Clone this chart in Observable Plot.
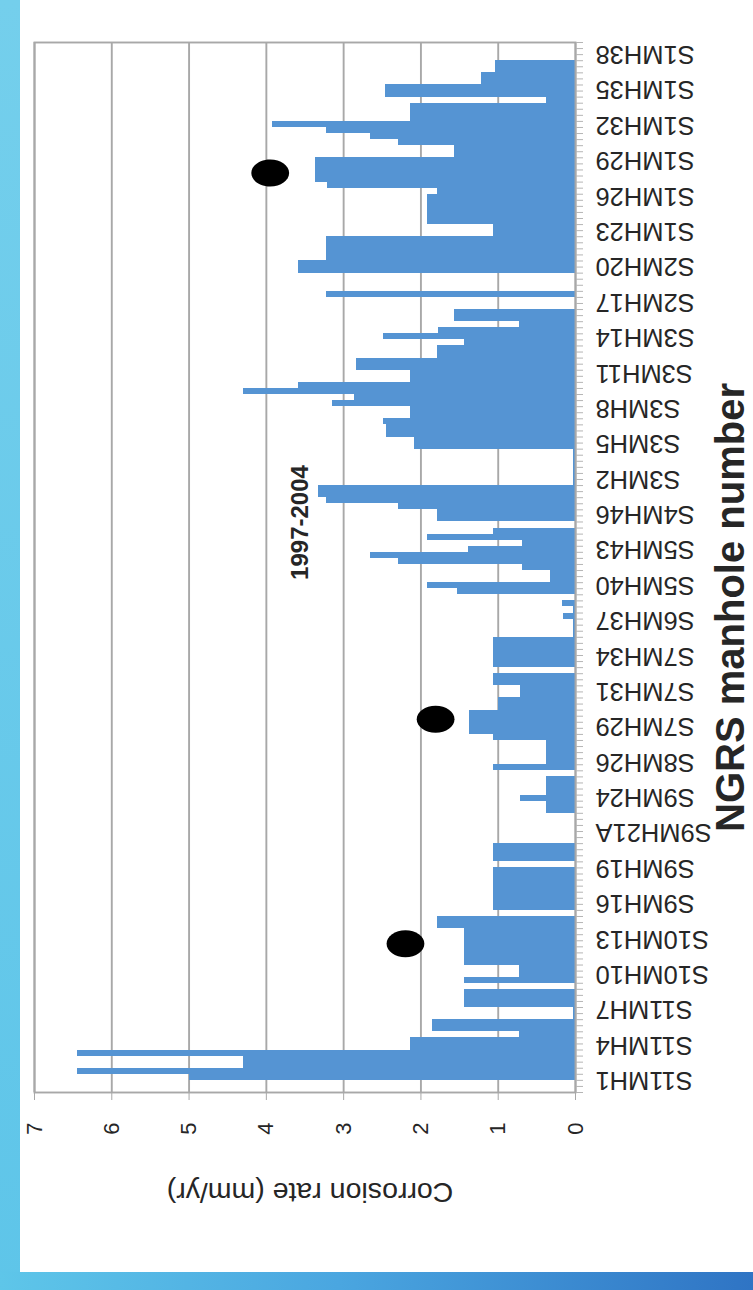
<!DOCTYPE html>
<html>
<head>
<meta charset="utf-8">
<script src="https://cdn.jsdelivr.net/npm/d3@7"></script>
<script src="https://cdn.jsdelivr.net/npm/@observablehq/plot@0.6"></script>
<style>
html, body { margin: 0; padding: 0; background: #ffffff; }
#page { position: relative; width: 753px; height: 1290px; overflow: hidden; background: #ffffff; }
#chart { position: absolute; left: 0; top: 0; }
#leftband { position: absolute; left: 0; top: 0; width: 20px; height: 1290px;
  background: linear-gradient(to bottom, #74cfec, #5ec5e9); }
#bottomband { position: absolute; left: 0; bottom: 0; width: 753px; height: 18px;
  background: linear-gradient(to right, #5ec6e9 0%, #4aa6e0 45%, #2f74c4 100%); }
</style>
</head>
<body>
<div id="page">
  <div id="chart"></div>
  <div id="leftband"></div>
  <div id="bottomband"></div>
</div>
<script>
// Tick labels shown on the category axis, in chart order
const manholes = [
  "S11MH1", "S11MH4", "S11MH7", "S10MH10", "S10MH13", "S9MH16", "S9MH19",
  "S9MH21A", "S9MH24", "S8MH26", "S7MH29", "S7MH31", "S7MH34", "S6MH37",
  "S5MH40", "S5MH43", "S4MH46", "S3MH2", "S3MH5", "S3MH8", "S3MH11",
  "S3MH14", "S2MH17", "S2MH20", "S1MH23", "S1MH26", "S1MH29", "S1MH32",
  "S1MH35", "S1MH38"
];
const labelBase = 2.0;   // category position of the first label
const labelStep = 5.83;  // categories between two labels

// Corrosion rate (mm/yr) for each category, from the S11MH1 end to the S1MH38 end
const rates = [
  0, 0, 5.0, 6.44, 4.3, 4.3, 6.44, 2.14, 2.14, 0.72, 1.85, 1.85,
  0.03, 0.03, 1.44, 1.44, 1.44, 0, 1.44, 0.72, 0.72,
  1.44, 1.44, 1.44, 1.44, 1.44, 1.44, 1.79, 1.79, 0,
  1.06, 1.06, 1.06, 1.06, 1.06, 1.06, 1.06, 0, 1.06, 1.06, 1.06,
  0, 0, 0, 0, 0,
  0.37, 0.37, 0.71, 0.37, 0.37, 0.37, 0, 1.06, 0.37, 0.37, 0.37, 0.37, 1.06,
  1.37, 1.37, 1.37, 1.37, 0.99, 0.99, 0.71, 0.71, 1.06, 1.06, 0,
  1.06, 1.06, 1.06, 1.06, 1.06,
  0.03, 0.03, 0.03, 0.15, 0.03, 0.17, 0, 1.53, 1.92, 0.32, 0.32,
  0.69, 2.29, 2.65, 1.39, 0.69, 1.92, 1.06, 0, 1.79, 1.79, 2.29, 3.22,
  3.32, 3.32,
  0.02, 0.02, 0.02, 0.02, 0.02, 0.02,
  2.08, 2.08, 2.44, 2.44, 2.49, 2.13, 2.13, 3.15, 2.86, 4.29, 3.58,
  2.13, 2.13, 2.84, 2.84, 1.78, 1.78, 1.44, 2.49, 1.77, 0.72, 1.56, 1.56,
  0, 0, 3.22, 0, 0, 0, 3.58, 3.58, 3.22, 3.22, 3.22, 3.22, 1.06, 1.06,
  1.92, 1.92, 1.92, 1.92, 1.92, 1.79, 3.21, 3.36, 3.36, 3.36, 3.36,
  1.57, 1.57, 2.29, 2.65, 3.22, 3.92, 2.13, 2.13, 2.13, 0.37, 2.46, 2.46,
  1.21, 1.21, 1.03, 1.03, 0, 0, 0
];

// Value axis ticks
const valueTicks = [0, 1, 2, 3, 4, 5, 6, 7];

// Black markers drawn on the chart (category index, rate)
const markerCategory = [151, 61, 24];
const markerRate = [3.95, 1.81, 2.2];

const titleText = "1997-2004";
const valueTitle = "Corrosion rate (mm/yr)";
const categoryTitle = "NGRS manhole number";

// ----- tables built from the arrays -----
const N = rates.length;
const rows = rates.map((rate, i) => ({i, next: i + 1, rate}));
const labelPos = manholes.map((m, j) => labelBase + labelStep * j);
const labelOf = new Map(labelPos.map((p, j) => [p, manholes[j]]));
const markers = markerCategory.map((i, k) => ({pos: i + 0.5, rate: markerRate[k]}));

// elliptical marker symbol
const ellipse = {
  draw(ctx, size) {
    const r = Math.sqrt(size / Math.PI);
    const rx = r * 1.4, ry = r, k = 0.5523;
    ctx.moveTo(rx, 0);
    ctx.bezierCurveTo(rx, k * ry, k * rx, ry, 0, ry);
    ctx.bezierCurveTo(-k * rx, ry, -rx, k * ry, -rx, 0);
    ctx.bezierCurveTo(-rx, -k * ry, -k * rx, -ry, 0, -ry);
    ctx.bezierCurveTo(k * rx, -ry, rx, -k * ry, rx, 0);
    ctx.closePath();
  }
};

const gray = "#a8a8a8";
const chart = Plot.plot({
  width: 753,
  height: 1290,
  marginTop: 42,
  marginLeft: 34,
  marginRight: 178,
  marginBottom: 198,
  style: {background: "transparent", fontFamily: "'Liberation Sans', Arial, sans-serif", overflow: "visible"},
  x: {domain: [0, 7], reverse: true, axis: null},
  y: {domain: [0, N], axis: null},
  marks: [
    Plot.gridX(valueTicks, {stroke: gray, strokeOpacity: 1, strokeWidth: 1.9}),
    Plot.rect(rows, {x1: 0, x2: "rate", y1: "i", y2: "next", fill: "#5594d3", shapeRendering: "crispEdges"}),
    Plot.frame({stroke: gray, strokeWidth: 1.9}),
    Plot.axisY(d3.range(N + 1), {anchor: "right", tickSize: 7, stroke: "#b5b5b5", tickFormat: () => ""}),
    Plot.axisY(labelPos, {
      anchor: "right", tickSize: 0, tickRotate: 180, textAnchor: "end", lineAnchor: "middle",
      tickPadding: 20, fontSize: 25.5, fill: "#262626", tickFormat: (p) => labelOf.get(p)
    }),
    Plot.axisX(valueTicks, {
      anchor: "bottom", tickSize: 8, stroke: gray, tickRotate: -90, textAnchor: "middle",
      lineAnchor: "middle", tickPadding: 28, fontSize: 22, fill: "#262626"
    }),
    Plot.dot(markers, {x: "rate", y: "pos", r: 13.5, symbol: ellipse, fill: "#000000"}),
    Plot.text([titleText], {
      frameAnchor: "top-left", dx: 266, dy: 480, rotate: -90, textAnchor: "middle", lineAnchor: "middle",
      fontSize: 24, fontWeight: "bold", fill: "#262626"
    }),
    Plot.text([valueTitle], {
      frameAnchor: "bottom", dx: 5, dy: 100, rotate: 180, textAnchor: "middle", lineAnchor: "middle",
      fontSize: 28.5, fill: "#262626"
    }),
    Plot.text([categoryTitle], {
      frameAnchor: "right", dx: 156, dy: 40, rotate: -90, textAnchor: "middle", lineAnchor: "middle",
      fontSize: 40, fontWeight: "bold", fill: "#262626"
    })
  ]
});
document.getElementById("chart").appendChild(chart);
</script>
</body>
</html>
